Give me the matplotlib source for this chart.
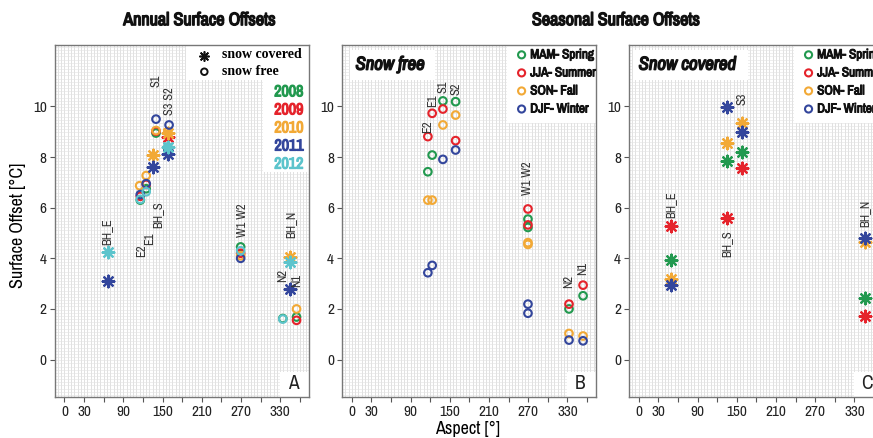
import numpy as np
import matplotlib.pyplot as plt
from matplotlib import font_manager
from matplotlib import patheffects as pe
from matplotlib.patches import Rectangle

# --- fonts: look for a narrow / condensed sans, fall back to Liberation Sans ---
fl = font_manager.fontManager.ttflist
names = {f.name for f in fl}
narrow = sorted({f.name for f in fl if ('Narrow' in f.name or 'Condensed' in f.name)
                 and 'Serif' not in f.name and 'Mono' not in f.name})
cond = sorted({f.name for f in fl if str(f.stretch) in ('condensed', 'semi-condensed', 'extra-condensed')
               and 'Serif' not in f.name and 'Mono' not in f.name})
STRETCH = 'normal'
if narrow:
    NARROW = narrow[0]
elif cond:
    NARROW = cond[0]
    STRETCH = 'condensed'
else:
    NARROW = 'Liberation Sans' if 'Liberation Sans' in names else 'DejaVu Sans'
SERIF = 'Liberation Serif' if 'Liberation Serif' in names else 'DejaVu Serif'
plt.rcParams['font.family'] = [NARROW, 'DejaVu Sans']
plt.rcParams['font.stretch'] = STRETCH


def _w(v):
    try:
        return int(v)
    except (TypeError, ValueError):
        return 700 if 'bold' in str(v) else 400


HAS_BOLD = any(f.name == NARROW and _w(f.weight) >= 600 for f in fl)


def bold(color='#111111', lw=0.9):
    # real bold if the narrow family has one, otherwise thicken with a stroke
    if HAS_BOLD:
        return dict(fontweight='bold', color=color)
    return dict(color=color, path_effects=[pe.withStroke(linewidth=lw, foreground=color)])


# --- colours ---
GREEN, RED, ORANGE, BLUE, CYAN = '#22994f', '#e5232b', '#f2a936', '#33469c', '#5cc4cc'

# --- data: annual offsets (panel A) ---
years = ['2008', '2009', '2010', '2011', '2012']
year_colors = [GREEN, RED, ORANGE, BLUE, CYAN]
free_asp = {
    '2008': [116, 125, 140, 158, 269.5, 334, 355],
    '2009': [116, 125, 140, 269.5, 355],
    '2010': [115, 125, 140, 158, 269.5, 355],
    '2011': [116, 125, 140, 160, 269.5],
    '2012': [116, 125, 158, 269.5, 334],
}
free_val = {
    '2008': [6.30, 6.75, 8.95, 8.35, 4.45, 1.62, 1.68],
    '2009': [6.45, 6.92, 9.02, 4.20, 1.55],
    '2010': [6.87, 7.27, 9.05, 9.00, 4.10, 2.00],
    '2011': [6.52, 6.95, 9.50, 9.27, 4.00],
    '2012': [6.33, 6.63, 8.40, 4.30, 1.60],
}
cov_asp = {
    '2008': [],
    '2009': [158],
    '2010': [136, 158, 345.6],
    '2011': [66, 136, 158, 345.6],
    '2012': [66, 158, 345.6],
}
cov_val = {
    '2008': [],
    '2009': [8.80],
    '2010': [8.10, 8.95, 4.04],
    '2011': [3.12, 7.62, 8.12, 2.78],
    '2012': [4.25, 8.40, 3.87],
}
labels_a = ['BH_E', 'E2', 'E1', 'BH_S', 'S1', 'S3 S2', 'W1 W2', 'BH_N', 'N2', 'N1']
labels_a_x = [65.4, 117.5, 129.7, 142, 140.4, 160.3, 271.7, 345.6, 333.8, 355.9]
labels_a_y = [4.53, 4.05, 4.53, 5.2, 10.77, 9.66, 4.84, 4.8, 3.06, 2.87]

# --- data: seasonal offsets ---
seasons = ['MAM- Spring', 'JJA- Summer', 'SON- Fall', 'DJF- Winter']
season_colors = [GREEN, RED, ORANGE, BLUE]

# panel B, snow free
free_site_asp = [116.4, 123, 139.4, 158.8, 269.5, 269.5, 332.3, 353.8]
free_season_val = [
    [7.42, 8.08, 10.22, 10.19, 5.55, 5.22, 2.00, 2.52],
    [8.81, 9.73, 9.90, 8.65, 5.95, 5.32, 2.19, 2.94],
    [6.30, 6.30, 9.27, 9.66, 4.62, 4.55, 1.03, 0.93],
    [3.43, 3.72, 7.91, 8.28, 2.19, 1.83, 0.77, 0.74],
]
labels_b = ['E2', 'E1', 'S1', 'S2', 'W1 W2', 'N2', 'N1']
labels_b_x = [115.9, 123.1, 139.4, 158.8, 269.5, 332.3, 353.7]
labels_b_y = [8.95, 9.98, 10.53, 10.45, 6.5, 2.83, 3.34]

# panel C, snow covered
cov_site_asp = [49.6, 134.8, 158.3, 345.6]
cov_season_val = [
    [3.93, 7.85, 8.19, 2.44],
    [5.29, 5.58, 7.58, 1.73],
    [3.19, 8.55, 9.34, 4.63],
    [2.96, 9.99, 8.98, 4.79],
]
labels_c = ['BH_E', 'S3', 'BH_N']
labels_c_x = [49.6, 158.3, 345.6]
labels_c_y = [5.59, 10.06, 5.24]

xtick_labels = [0, 30, 90, 150, 210, 270, 330]
yticks = [0, 2, 4, 6, 8, 10]

STAR = (8, 2, 0)


def style_axes(ax, letter):
    ax.set_xlim(-14.5, 374)
    ax.set_ylim(-1.48, 12.43)
    for x in np.arange(-10, 374, 5):
        ax.axvline(x, color='#d4d4d4', lw=0.5, zorder=0)
    for y in np.arange(-1.4, 12.43, 0.125):
        ax.axhline(y, color='#e4e4e4', lw=0.45, zorder=0)
    ax.set_xticks(np.arange(0, 361, 30))
    ax.set_xticklabels([str(v) if v in xtick_labels else '' for v in range(0, 361, 30)])
    ax.set_yticks(yticks)
    ax.tick_params(axis='both', colors='#555555', labelcolor='#222222',
                   labelsize=11, length=3.5, width=0.8, pad=2.5)
    for s in ax.spines.values():
        s.set_color('#777777')
        s.set_linewidth(1.0)
    ax.add_patch(Rectangle((0.885, 0.0), 0.115, 0.071, transform=ax.transAxes,
                           facecolor='white', edgecolor='none', zorder=2))
    ax.text(0.937, 0.038, letter, transform=ax.transAxes, fontsize=14,
            ha='center', va='center', color='#222222', zorder=4)


def site_labels(ax, names_, xs, ys):
    for t, x, y in zip(names_, xs, ys):
        ax.text(x, y, t, rotation=90, ha='center', va='bottom', fontsize=9,
                color='#333333', zorder=4)


def season_legend(ax, title):
    ax.add_patch(Rectangle((0.647, 0.778), 0.36, 0.23, transform=ax.transAxes,
                           facecolor='white', edgecolor='none', zorder=2))
    for i, (lab, c) in enumerate(zip(seasons, season_colors)):
        y = 0.972 - i * 0.0513
        ax.scatter([0.706], [y], s=26, facecolors='none', edgecolors=c,
                   linewidths=1.5, transform=ax.transAxes, zorder=4, clip_on=False)
        ax.text(0.740, y, lab, transform=ax.transAxes, fontsize=9.5,
                va='center', ha='left', zorder=4, **bold(lw=0.7))
    w = 0.335 if title == 'Snow free' else 0.452
    x0 = 0.030 if title == 'Snow free' else 0.015
    ax.add_patch(Rectangle((x0, 0.90), w, 0.086, transform=ax.transAxes,
                           facecolor='white', edgecolor='none', zorder=2))
    ax.text(x0 + 0.022, 0.944, title, transform=ax.transAxes, fontsize=13.5,
            fontstyle='italic', va='center', ha='left', zorder=4, **bold(lw=1.0))


fig = plt.figure(figsize=(8.73, 4.38), dpi=100)
axA = fig.add_axes([0.0630, 0.0936, 0.2909, 0.8037])
axB = fig.add_axes([0.3921, 0.0936, 0.2909, 0.8037])
axC = fig.add_axes([0.7208, 0.0936, 0.2909, 0.8037])

# panel A
style_axes(axA, 'A')
for yr, c in zip(years, year_colors):
    axA.scatter(free_asp[yr], free_val[yr], s=30, facecolors='none', edgecolors=c,
                linewidths=1.5, zorder=3)
    if cov_asp[yr]:
        axA.scatter(cov_asp[yr], cov_val[yr], s=70, marker=STAR, color=c,
                    linewidths=1.6, zorder=3)
site_labels(axA, labels_a, labels_a_x, labels_a_y)
axA.add_patch(Rectangle((0.517, 0.90), 0.49, 0.11, transform=axA.transAxes,
                        facecolor='white', edgecolor='none', zorder=2))
axA.add_patch(Rectangle((0.819, 0.639), 0.19, 0.27, transform=axA.transAxes,
                        facecolor='white', edgecolor='none', zorder=2))
axA.scatter([0.588], [0.970], s=45, marker=STAR, color='#111111', linewidths=1.2,
            transform=axA.transAxes, zorder=4, clip_on=False)
axA.scatter([0.588], [0.924], s=22, facecolors='none', edgecolors='#111111',
            linewidths=1.4, transform=axA.transAxes, zorder=4, clip_on=False)
axA.text(0.656, 0.972, 'snow covered', transform=axA.transAxes, fontsize=10,
         fontweight='bold', family=[SERIF], va='center', ha='left', zorder=4)
axA.text(0.656, 0.924, 'snow free', transform=axA.transAxes, fontsize=10,
         fontweight='bold', family=[SERIF], va='center', ha='left', zorder=4)
for i, (yr, c) in enumerate(zip(years, year_colors)):
    axA.text(0.978, 0.867 - i * 0.0513, yr, transform=axA.transAxes, fontsize=11.5,
             va='center', ha='right', zorder=4, **bold(c, lw=0.9))

# panel B
style_axes(axB, 'B')
for vals, c in zip(free_season_val, season_colors):
    axB.scatter(free_site_asp, vals, s=30, facecolors='none', edgecolors=c,
                linewidths=1.5, zorder=3)
site_labels(axB, labels_b, labels_b_x, labels_b_y)
season_legend(axB, 'Snow free')

# panel C
style_axes(axC, 'C')
for vals, c in zip(cov_season_val, season_colors):
    axC.scatter(cov_site_asp, vals, s=70, marker=STAR, color=c, linewidths=1.6, zorder=3)
site_labels(axC, labels_c, labels_c_x, labels_c_y)
axC.text(134.8, 5.12, 'BH_S', rotation=90, ha='center', va='top', fontsize=9,
         color='#333333', zorder=4)
season_legend(axC, 'Snow covered')

# titles and axis labels
fig.text(0.229, 0.954, 'Annual Surface Offsets', fontsize=13, ha='center',
         va='center', **bold(lw=1.0))
fig.text(0.706, 0.954, 'Seasonal Surface Offsets', fontsize=13, ha='center',
         va='center', **bold(lw=1.0))
fig.text(0.536, 0.020, 'Aspect [°]', fontsize=13, ha='center', va='center')
fig.text(0.021, 0.486, 'Surface Offset [°C]', fontsize=13, rotation=90,
         ha='center', va='center')

fig.savefig('out.png', dpi=100)
